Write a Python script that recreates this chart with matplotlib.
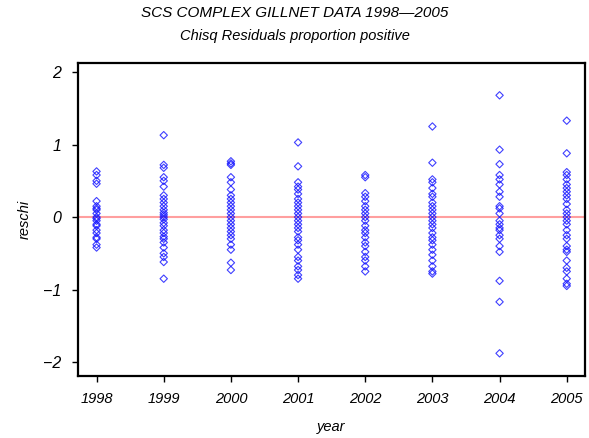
import numpy as np
import matplotlib.pyplot as plt

plt.rcParams['font.family'] = ['Liberation Sans', 'DejaVu Sans']

# residuals, one list per year
years = [1998, 1999, 2000, 2001, 2002, 2003, 2004, 2005]
r1998 = [0.63, 0.58, 0.50, 0.46, 0.22, 0.15, 0.12, 0.10, 0.05, 0.0, -0.02, -0.05,
         -0.10, -0.12, -0.18, -0.22, -0.28, -0.30, -0.38, -0.42]
r1999 = [1.13, 0.72, 0.68, 0.55, 0.50, 0.42, 0.30, 0.25, 0.20, 0.15, 0.10, 0.06,
         0.03, 0.0, -0.03, -0.08, -0.12, -0.18, -0.22, -0.27, -0.30, -0.35, -0.42,
         -0.50, -0.55, -0.62, -0.85]
r2000 = [0.77, 0.74, 0.72, 0.55, 0.48, 0.38, 0.30, 0.25, 0.20, 0.15, 0.10, 0.05,
         0.0, -0.05, -0.10, -0.15, -0.20, -0.25, -0.30, -0.38, -0.45, -0.63, -0.73]
r2001 = [1.03, 0.70, 0.48, 0.42, 0.38, 0.32, 0.25, 0.20, 0.15, 0.10, 0.05, 0.0,
         -0.05, -0.10, -0.15, -0.20, -0.28, -0.32, -0.38, -0.45, -0.55, -0.60,
         -0.68, -0.73, -0.80, -0.85]
r2002 = [0.58, 0.55, 0.33, 0.28, 0.22, 0.15, 0.10, 0.05, 0.0, -0.05, -0.12, -0.18,
         -0.22, -0.28, -0.35, -0.40, -0.48, -0.55, -0.60, -0.68, -0.75]
r2003 = [1.25, 0.75, 0.52, 0.48, 0.40, 0.32, 0.28, 0.20, 0.15, 0.10, 0.05, 0.0,
         -0.05, -0.10, -0.15, -0.22, -0.28, -0.32, -0.38, -0.45, -0.52, -0.60,
         -0.68, -0.75, -0.78]
r2004 = [1.68, 0.93, 0.73, 0.58, 0.52, 0.45, 0.35, 0.28, 0.15, 0.12, 0.05, -0.05,
         -0.10, -0.15, -0.18, -0.25, -0.30, -0.40, -0.48, -0.88, -1.17, -1.88]
r2005 = [1.33, 0.88, 0.62, 0.58, 0.52, 0.45, 0.40, 0.35, 0.30, 0.25, 0.18, 0.10,
         0.05, 0.0, -0.05, -0.10, -0.18, -0.25, -0.30, -0.40, -0.45, -0.48, -0.60,
         -0.70, -0.75, -0.85, -0.92, -0.95]
resid = [r1998, r1999, r2000, r2001, r2002, r2003, r2004, r2005]

fig = plt.figure(figsize=(5.89, 4.38), dpi=100)
ax = fig.add_axes([0.132, 0.142, 0.861, 0.714])

# zero reference line
ax.axhline(0, color='#ff9f9f', linewidth=1.5, zorder=1)

for yr, vals in zip(years, resid):
    ax.scatter([yr] * len(vals), vals, marker='D', s=14, facecolors='none',
               edgecolors='#1010ff', linewidths=0.8, alpha=0.8, zorder=2)

ax.set_xlim(1997.72, 2005.27)
ax.set_ylim(-2.19, 2.125)
ax.set_xticks(years)
ax.set_xticklabels([str(y) for y in years], fontstyle='italic', fontsize=10.5)
ax.set_yticks([-2, -1, 0, 1, 2])
ax.set_yticklabels(['\u22122', '\u22121', '0', '1', '2'], fontstyle='italic', fontsize=11.5)
ax.tick_params(direction='out', length=4, width=1, pad=8)

for s in ax.spines.values():
    s.set_linewidth(1.6)

ax.set_xlabel('year', fontstyle='italic', fontsize=10.5, labelpad=10)
ax.set_ylabel('reschi', fontstyle='italic', fontsize=10.5, labelpad=8)

fig.text(0.5, 0.962, 'SCS COMPLEX GILLNET DATA 1998\u20142005', ha='center',
         fontstyle='italic', fontsize=11)
fig.text(0.5, 0.908, 'Chisq Residuals proportion positive', ha='center',
         fontstyle='italic', fontsize=10.5)

fig.savefig('out.png', dpi=100)
